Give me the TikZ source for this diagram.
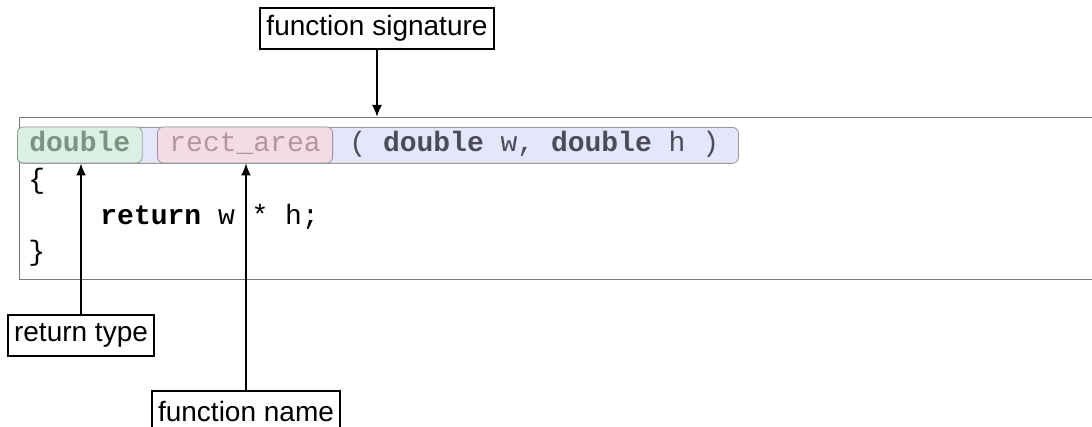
\documentclass[tikz,border=0pt]{standalone}
\usepackage{fontspec}
\setmainfont{Liberation Sans}
\setmonofont{Liberation Mono}
\usepackage{xcolor}
\usetikzlibrary{positioning, arrows.meta}

\definecolor{retfill}{RGB}{218,240,228}
\definecolor{rettext}{RGB}{122,148,130}
\definecolor{namefill}{RGB}{244,220,230}
\definecolor{nametext}{RGB}{180,150,160}
\definecolor{sigfill}{RGB}{230,230,250}
\definecolor{sigtext}{RGB}{75,75,90}
\definecolor{frame}{RGB}{120,120,120}

\begin{document}
\begin{tikzpicture}[x=0.5pt, y=-0.5pt,
    callout/.style={draw=black, line width=1pt, fill=white,
                    font=\fontsize{14}{17}\selectfont, inner xsep=3pt, inner ysep=0pt,
                    minimum height=20.5pt},
    token/.style={draw=gray!80, rounded corners=3pt, inner xsep=6pt, inner ysep=0pt,
                  font=\fontsize{14}{17}\selectfont\ttfamily, minimum height=18pt,
                  text height=9.5pt, text depth=2.5pt},
    codetext/.style={font=\fontsize{14}{17}\selectfont\ttfamily, anchor=west, inner sep=0pt,
                     text height=9.5pt, text depth=2.5pt},
    pointer/.style={-{Latex[length=6pt, width=5pt]}, line width=1pt}
]
\useasboundingbox (0,0) rectangle (1092,427);
\node[draw=frame, line width=0.7pt, anchor=north west, minimum width=545.5pt,
      minimum height=81pt, inner sep=0pt] (code) at (19,117) {};
\node[token, fill=sigfill, anchor=north west, minimum width=360.5pt] (sig) at (17,127) {};
\node[token, fill=retfill, text=rettext, anchor=west] (ret) at (17,145) {\textbf{double}};
\node[token, fill=namefill, text=nametext, anchor=west] (name) at (157,145) {rect\_area};
\node[codetext, text=sigtext] (params) at (349,145) {( \textbf{double} w, \textbf{double} h )};
\node[codetext] (lbrace) at (28,182) {\{};
\node[codetext] (body) at (100,218) {\textbf{return} w * h;};
\node[codetext] (rbrace) at (28,254) {\}};
\node[callout] (siglbl) at (377,28.5) {function signature};
\node[callout] (retlbl) at (81,335) {return type};
\node[callout] (namelbl) at (246,411) {function name};
\draw[pointer] (siglbl) -- (siglbl |- code.north);
\draw[pointer] (retlbl) -- (retlbl |- ret.south);
\draw[pointer] (namelbl) -- (namelbl |- name.south);
\end{tikzpicture}
\end{document}
